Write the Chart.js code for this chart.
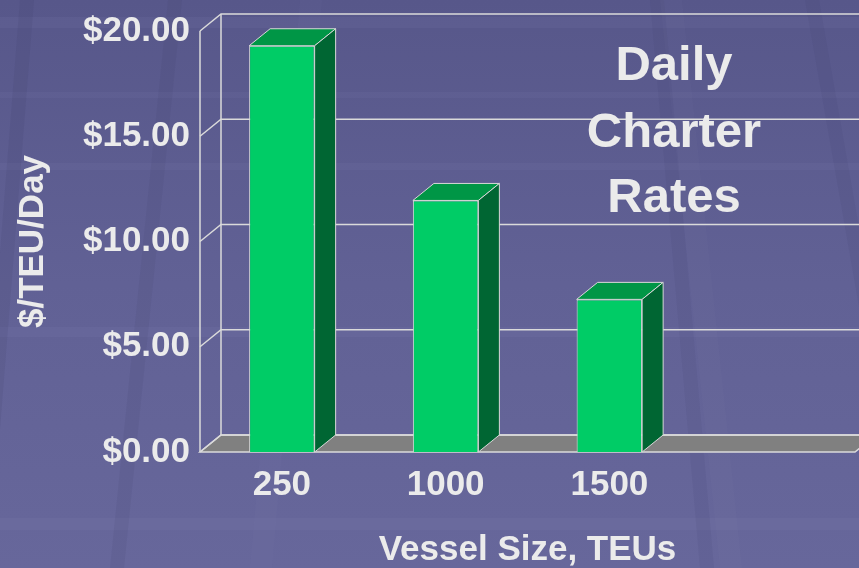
<!DOCTYPE html>
<html>
<head>
<meta charset="utf-8">
<script src="https://cdn.jsdelivr.net/npm/chart.js@4.4.0/dist/chart.umd.min.js"></script>
<style>
    html, body { margin: 0; padding: 0; background: #606093; }
    #wrap { width: 859px; height: 568px; position: relative; overflow: hidden; }
</style>
</head>
<body>
<div id="wrap"><canvas id="rates" width="859" height="568"></canvas></div>
<script>
var vesselSizes = ["250", "1000", "1500", ""];
var dailyRates = [19.3, 11.95, 7.25, null];
var rateTicks = [0, 5, 10, 15, 20];
var titleLines = ["Daily", "Charter", "Rates"];

var textColor = "#ebebeb"
var wallLine = "#dadada"
var fontFamily = "'Liberation Sans', Arial, Helvetica, sans-serif"
var depthX = 21, depthY = 17

// slide background: bluish purple with soft bands and stripes
var slideBackground = {
    id: "slideBackground",
    beforeDraw: function (chart) {
        var ctx = chart.ctx, w = chart.width, h = chart.height
        ctx.save()
        var g = ctx.createLinearGradient(0, 0, 0, h)
        g.addColorStop(0, "#57578a")
        g.addColorStop(0.5, "#616195")
        g.addColorStop(1, "#67679b")
        ctx.fillStyle = g
        ctx.fillRect(0, 0, w, h)
        // horizontal lighter bands
        ctx.fillStyle = "rgba(150,150,200,0.08)"
        ;[[17, 11], [92, 6], [163, 7], [327, 10], [518, 12]].forEach(function (b) {
            ctx.fillRect(0, b[0], w, b[1])
        })
        // diagonal stripes
        var stripes = [[20, -25, 14, "rgba(60,60,100,0.12)"], [168, 110, 14, "rgba(60,60,100,0.10)"],
            [650, 700, 14, "rgba(60,60,100,0.09)"], [805, 905, 14, "rgba(60,60,100,0.09)"],
            [300, 250, 22, "rgba(160,160,210,0.04)"], [660, 720, 22, "rgba(160,160,210,0.035)"]]
        stripes.forEach(function (s) {
            ctx.fillStyle = s[3]
            ctx.beginPath()
            ctx.moveTo(s[0], 0)
            ctx.lineTo(s[0] + s[2], 0)
            ctx.lineTo(s[1] + s[2], h)
            ctx.lineTo(s[1], h)
            ctx.closePath()
            ctx.fill()
        })
        ctx.restore()
    }
}

// walls, floor and the top / side faces of the bars
var threeD = {
    id: "threeD",
    beforeDatasetsDraw: function (chart) {
        var ctx = chart.ctx, a = chart.chartArea, y = chart.scales.y
        var y0 = y.getPixelForValue(0)
        ctx.save()
        ctx.strokeStyle = wallLine
        ctx.lineWidth = 1.5
        // floor
        ctx.fillStyle = "#808080"
        ctx.beginPath()
        ctx.moveTo(a.left, y0)
        ctx.lineTo(a.right, y0)
        ctx.lineTo(a.right + depthX, y0 - depthY)
        ctx.lineTo(a.left + depthX, y0 - depthY)
        ctx.closePath()
        ctx.fill()
        ctx.stroke()
        // grid on side and back wall
        y.ticks.forEach(function (t) {
            var py = y.getPixelForValue(t.value)
            ctx.beginPath()
            ctx.moveTo(a.left, py)
            ctx.lineTo(a.left + depthX, py - depthY)
            ctx.lineTo(a.right + depthX + 30, py - depthY)
            ctx.stroke()
        })
        ctx.beginPath()
        ctx.moveTo(a.left, a.top)
        ctx.lineTo(a.left, y0)
        ctx.moveTo(a.left + depthX, a.top - depthY)
        ctx.lineTo(a.left + depthX, y0 - depthY)
        ctx.stroke()
        ctx.restore()
    },
    afterDatasetsDraw: function (chart) {
        var ctx = chart.ctx
        var meta = chart.getDatasetMeta(0)
        ctx.save()
        ctx.strokeStyle = "#d8d8d8"
        ctx.lineWidth = 1
        meta.data.forEach(function (bar, i) {
            if (dailyRates[i] == null) return
            var p = bar.getProps(["x", "y", "base", "width"], true)
            var l = p.x - p.width / 2, r = p.x + p.width / 2
            // top face
            ctx.fillStyle = "#009646"
            ctx.beginPath()
            ctx.moveTo(l, p.y)
            ctx.lineTo(r, p.y)
            ctx.lineTo(r + depthX, p.y - depthY)
            ctx.lineTo(l + depthX, p.y - depthY)
            ctx.closePath()
            ctx.fill()
            ctx.stroke()
            // side face
            ctx.fillStyle = "#006633"
            ctx.beginPath()
            ctx.moveTo(r, p.y)
            ctx.lineTo(r + depthX, p.y - depthY)
            ctx.lineTo(r + depthX, p.base - depthY)
            ctx.lineTo(r, p.base)
            ctx.closePath()
            ctx.fill()
            ctx.stroke()
        })
        ctx.restore()
    }
}

// the "Daily Charter Rates" text box
var textBox = {
    id: "textBox",
    afterDraw: function (chart) {
        var ctx = chart.ctx
        var baselines = [80, 147, 212]
        ctx.save()
        ctx.fillStyle = textColor
        ctx.font = "bold 49px " + fontFamily
        ctx.textAlign = "center"
        ctx.textBaseline = "alphabetic"
        titleLines.forEach(function (line, i) {
            ctx.fillText(line, 674, baselines[i])
        })
        ctx.restore()
    }
}

new Chart(document.getElementById("rates").getContext("2d"), {
    type: "bar",
    data: {
        labels: vesselSizes,
        datasets: [{
            label: "Daily Charter Rates",
            data: dailyRates,
            backgroundColor: "#00cc66",
            borderColor: "#d8d8d8",
            borderWidth: 1,
            categoryPercentage: 1,
            barPercentage: 0.4,
        }],
    },
    options: {
        responsive: false,
        animation: false,
        devicePixelRatio: 1,
        layout: { padding: { top: 28, right: 4, bottom: 0, left: 0 } },
        plugins: {
            legend: { display: false },
            title: { display: false },
            tooltip: { enabled: false },
        },
        scales: {
            x: {
                grid: { display: false, drawTicks: false },
                border: { display: false },
                ticks: {
                    color: textColor,
                    padding: 12,
                    maxRotation: 0,
                    font: { family: fontFamily, size: 35, weight: "bold" },
                },
                title: {
                    display: true,
                    text: "Vessel Size, TEUs",
                    color: textColor,
                    padding: 0,
                    font: { family: fontFamily, size: 35, weight: "bold", lineHeight: 1 },
                },
                afterFit: function (scale) { scale.height = 116 },
            },
            y: {
                min: 0,
                max: 20,
                grid: { display: false, drawTicks: false },
                border: { display: false },
                afterBuildTicks: function (scale) {
                    scale.ticks = rateTicks.map(function (v) { return { value: v } })
                },
                ticks: {
                    color: textColor,
                    padding: 10,
                    font: { family: fontFamily, size: 35, weight: "bold" },
                    callback: function (v) { return "$" + Number(v).toFixed(2) },
                },
                title: {
                    display: true,
                    text: "$/TEU/Day",
                    color: textColor,
                    padding: { top: 16, bottom: 0 },
                    font: { family: fontFamily, size: 35, weight: "bold", lineHeight: 1 },
                },
                afterFit: function (scale) { scale.width = 200 },
            },
        },
    },
    plugins: [slideBackground, threeD, textBox],
})
</script>
</body>
</html>
